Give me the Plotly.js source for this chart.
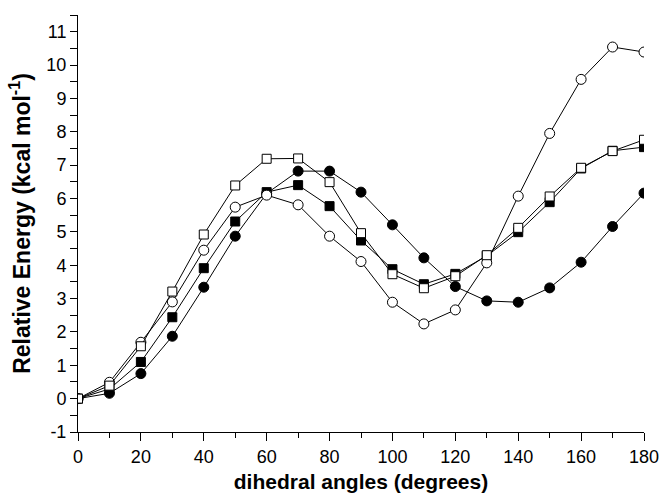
<!DOCTYPE html>
<html>
<head>
<meta charset="utf-8">
<script src="https://cdn.plot.ly/plotly-3.0.1.min.js"></script>
<style>html,body{margin:0;padding:0;background:#fff;}#chart{width:661px;height:493px;}</style>
</head>
<body>
<div id="chart"></div>
<script>
const angles = [0,10,20,30,40,50,60,70,80,90,100,110,120,130,140,150,160,170,180];
const openCircle   = [0,0.49,1.69,2.90,4.45,5.74,6.10,5.81,4.87,4.11,2.89,2.24,2.66,4.07,6.07,7.95,9.57,10.54,10.39];
const openSquare   = [0,0.39,1.57,3.21,4.92,6.39,7.19,7.20,6.49,4.96,3.73,3.31,3.67,4.30,5.12,6.06,6.92,7.42,7.76];
const filledSquare = [0,0.29,1.10,2.44,3.91,5.31,6.19,6.40,5.77,4.74,3.88,3.43,3.74,4.28,4.99,5.89,6.90,7.43,7.54];
const filledCircle = [0,0.16,0.75,1.87,3.34,4.87,6.15,6.82,6.82,6.19,5.21,4.22,3.36,2.93,2.89,3.32,4.09,5.16,6.16];
const xTickVals = [0,20,40,60,80,100,120,140,160,180];
const xTickText = ['0','20','40','60','80','100','120','140','160','180'];
const yTickVals = [-1,0,1,2,3,4,5,6,7,8,9,10,11];
const yTickText = ['-1','0','1','2','3','4','5','6','7','8','9','10','11'];

function tr(y, symbol, fill){
  return {x: angles, y: y, type:'scatter', mode:'lines+markers',
    line:{color:'#000', width:1},
    marker:{symbol:symbol, size: symbol==='square'?9:10, color:fill, line:{color:'#000', width:1}},
    showlegend:false};
}
const data = [
  tr(filledCircle,'circle','#000'),
  tr(filledSquare,'square','#000'),
  tr(openCircle,'circle','#fff'),
  tr(openSquare,'square','#fff')
];
const font = {family:'"Liberation Sans", Arial, sans-serif', color:'#000'};
const layout = {
  width:661, height:493,
  margin:{l:78, r:17, t:15, b:61},
  paper_bgcolor:'#fff', plot_bgcolor:'#fff',
  font: Object.assign({size:16}, font),
  xaxis:{range:[0,180], tickmode:'array', tickvals:xTickVals, ticktext:xTickText, ticks:'outside', ticklen:8, tickwidth:1, tickcolor:'#000',
    minor:{dtick:10, ticks:'outside', ticklen:5, tickcolor:'#000'},
    showline:true, linecolor:'#000', linewidth:1, showgrid:false, zeroline:false,
    tickfont:Object.assign({size:18}, font),
    title:{text:'<b>dihedral angles (degrees)</b>', font:Object.assign({size:21}, font), standoff:10}},
  yaxis:{range:[-1,11.5], tickmode:'array', tickvals:yTickVals, ticktext:yTickText, ticks:'outside', ticklen:7, tickwidth:1, tickcolor:'#000',
    minor:{dtick:0.5, ticks:'outside', ticklen:7, tickcolor:'#000'},
    showline:true, linecolor:'#000', linewidth:1, showgrid:false, zeroline:false,
    tickfont:Object.assign({size:18}, font),
    title:{text:'<b>Relative Energy (kcal mol<sup>-1</sup>)</b>', font:Object.assign({size:23}, font), standoff:9}}
};
Plotly.newPlot('chart', data, layout, {displayModeBar:false, staticPlot:true});
</script>
</body>
</html>
